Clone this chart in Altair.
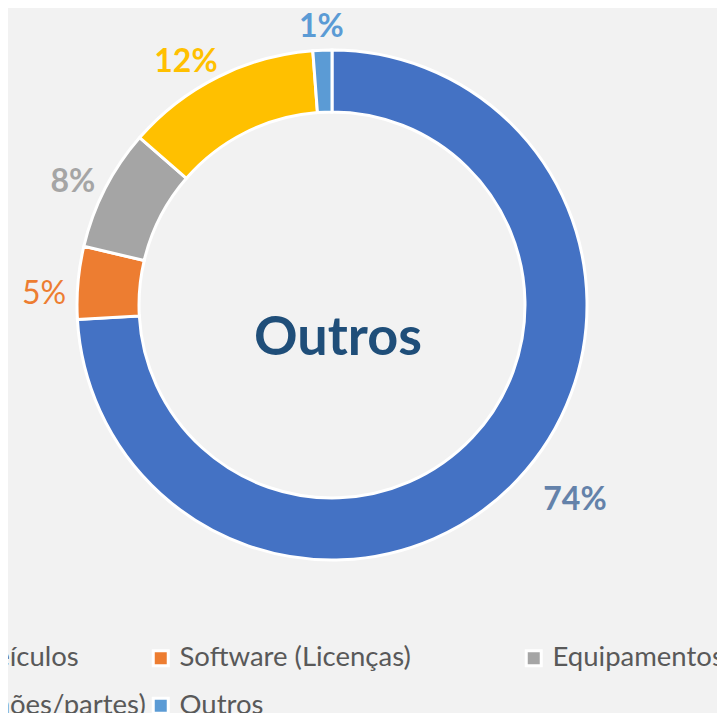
import altair as alt
import pandas as pd

categorias = ["Aquisições de Veículos", "Software (Licenças)", "Equipamentos",
              "Tratores (Caminhões/partes)", "Outros"]
valores = [74.1, 4.6, 7.7, 12.4, 1.2]
rotulos = ["74%", "5%", "8%", "12%", "1%"]
ordem = [1, 2, 3, 4, 5]
cores = ["#4472C4", "#ED7D31", "#A5A5A5", "#FFC000", "#5B9BD5"]
titulo_centro = ["Outros"]

df = pd.DataFrame({"categoria": categorias, "valor": valores,
                   "rotulo": rotulos, "ordem": ordem})
df_t = pd.DataFrame({"t": titulo_centro})

CX, CY = 324, 297
R_OUT, R_IN = 255, 193

color_scale = alt.Scale(domain=categorias, range=cores)

arc = alt.Chart(df).mark_arc(outerRadius=R_OUT, innerRadius=R_IN, stroke="white",
                             strokeWidth=3).encode(
    theta=alt.Theta("valor:Q", stack=True),
    order=alt.Order("ordem:Q"),
    x=alt.value(CX), y=alt.value(CY),
    color=alt.Color("categoria:N", scale=color_scale, sort=categorias,
                    legend=alt.Legend(
                        title=None, orient="none", legendX=-234, legendY=636,
                        direction="horizontal", columns=3, gridAlign="all",
                        columnPadding=1, rowPadding=19, padding=0,
                        symbolType="square", symbolSize=225,
                        symbolStrokeColor="white", symbolStrokeWidth=3,
                        labelFont="Lato", labelFontSize=27.5, labelColor="#595959",
                        labelLimit=600, labelOffset=5)),
)

txt_base = alt.Chart(df).transform_joinaggregate(
    total="sum(valor)"
).transform_window(
    cum="sum(valor)", sort=[alt.SortField("ordem")], frame=[None, 0]
).transform_calculate(
    midv="datum.cum - datum.valor/2"
).transform_calculate(
    mid="2*PI*datum.midv/datum.total"
).transform_calculate(
    lr=f"{R_OUT + 12} + abs(sin(datum.mid))*10.5*length(datum.rotulo) + abs(cos(datum.mid))*12.5"
).encode(
    theta=alt.Theta("midv:Q", stack=None),
    x=alt.value(CX), y=alt.value(CY),
    radius=alt.Radius("lr:Q", scale=None),
    text="rotulo:N",
)

cor_fatia = alt.Color("categoria:N", scale=color_scale, legend=None)
estilo = dict(font="Lato", fontSize=32, align="center", baseline="middle")

txt_74 = txt_base.transform_filter(alt.datum.ordem == 1).mark_text(
    fontWeight="bold", color="#6482AA", dx=26, dy=-10, **estilo)
txt_5 = txt_base.transform_filter(alt.datum.ordem == 2).mark_text(
    fontWeight="normal", dy=14, **estilo).encode(color=cor_fatia)
txt_8 = txt_base.transform_filter(alt.datum.ordem == 3).mark_text(
    fontWeight="bold", dy=10, **estilo).encode(color=cor_fatia)
txt_12 = txt_base.transform_filter(alt.datum.ordem == 4).mark_text(
    fontWeight="bold", dx=-15, dy=18, **estilo).encode(color=cor_fatia)
txt_1 = txt_base.transform_filter(alt.datum.ordem == 5).mark_text(
    fontWeight="bold", dy=2, **estilo).encode(color=cor_fatia)

centro = alt.Chart(df_t).mark_text(
    font="Lato", fontSize=54, fontWeight="bold", color="#1F4E79",
    align="center", baseline="middle"
).encode(text="t:N", x=alt.value(CX + 6), y=alt.value(CY + 34))

chart = alt.layer(arc, txt_74, txt_5, txt_8, txt_12, txt_1, centro).properties(
    width=709, height=705, background="#F2F2F2", padding=0,
    autosize=alt.AutoSizeParams(type="none"),
).configure_view(stroke=None)

chart.save("out.html", embed_options={"renderer": "svg", "actions": False})
